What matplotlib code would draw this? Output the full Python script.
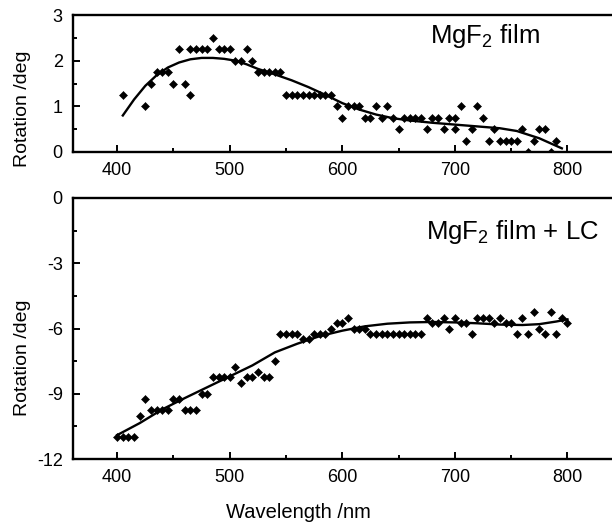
import numpy as np
import matplotlib
matplotlib.use("Agg")
import matplotlib.pyplot as plt
from matplotlib.ticker import MultipleLocator

plt.rcParams['font.family'] = ['Liberation Sans', 'DejaVu Sans']
plt.rcParams['mathtext.fontset'] = 'custom'
plt.rcParams['mathtext.rm'] = 'Liberation Sans'
plt.rcParams['mathtext.it'] = 'Liberation Sans'

# ---- Top panel: MgF2 film ----
top_wl = [405, 425, 430, 435, 440, 445, 450, 455, 460, 465, 465, 470, 475, 480,
          485, 490, 495, 500, 505, 510, 515, 520, 525, 530, 535, 540, 545,
          550, 555, 560, 565, 570, 575, 580, 585, 590, 595, 600, 605, 610,
          615, 620, 625, 630, 635, 640, 645, 650, 655, 660, 665, 670, 675,
          680, 685, 690, 695, 700, 700, 705, 710, 715, 720, 725, 730, 735,
          740, 745, 750, 755, 760, 765, 770, 775, 780, 785, 790]
top_rot = [1.25, 1.0, 1.5, 1.75, 1.75, 1.75, 1.5, 2.25, 1.5, 1.25, 2.25, 2.25, 2.25, 2.25,
           2.5, 2.25, 2.25, 2.25, 2.0, 2.0, 2.25, 2.0, 1.75, 1.75, 1.75, 1.75, 1.75,
           1.25, 1.25, 1.25, 1.25, 1.25, 1.25, 1.25, 1.25, 1.25, 1.0, 0.75, 1.0, 1.0,
           1.0, 0.75, 0.75, 1.0, 0.75, 1.0, 0.75, 0.5, 0.75, 0.75, 0.75, 0.75, 0.5,
           0.75, 0.75, 0.5, 0.75, 0.75, 0.5, 1.0, 0.25, 0.5, 1.0, 0.75, 0.25, 0.5,
           0.25, 0.25, 0.25, 0.25, 0.5, 0.0, 0.25, 0.5, 0.5, 0.0, 0.25]

top_fit_wl = [405, 415, 425, 435, 445, 455, 465, 475, 485, 495, 505, 515, 525,
              540, 555, 570, 585, 600, 615, 630, 645, 660, 680, 700, 720, 740,
              755, 765, 775, 785, 795]
top_fit = [0.80, 1.15, 1.45, 1.68, 1.85, 1.96, 2.03, 2.06, 2.06, 2.04, 2.00, 1.92, 1.82,
           1.70, 1.57, 1.42, 1.25, 1.07, 0.93, 0.82, 0.74, 0.69, 0.64, 0.60, 0.56, 0.52,
           0.46, 0.38, 0.30, 0.19, 0.08]

# ---- Bottom panel: MgF2 film + LC ----
bot_wl = [400, 405, 410, 415, 420, 425, 430, 435, 440, 445, 450, 455, 460, 465,
          470, 475, 480, 485, 490, 495, 500, 505, 510, 515, 520, 525, 530, 535,
          540, 545, 550, 555, 560, 565, 570, 575, 580, 585, 590, 595, 600, 605,
          610, 615, 620, 625, 630, 635, 640, 645, 650, 655, 660, 665, 670, 675,
          680, 685, 690, 695, 700, 705, 710, 715, 720, 725, 730, 735, 740, 745,
          750, 755, 760, 765, 770, 775, 780, 785, 790, 795, 800]
bot_rot = [-11, -11, -11, -11, -10, -9.25, -9.75, -9.75, -9.75, -9.75, -9.25, -9.25, -9.75, -9.75,
           -9.75, -9.0, -9.0, -8.25, -8.25, -8.25, -8.25, -7.75, -8.5, -8.25, -8.25, -8.0, -8.25, -8.25,
           -7.5, -6.25, -6.25, -6.25, -6.25, -6.5, -6.5, -6.25, -6.25, -6.25, -6.0, -5.75, -5.75, -5.5,
           -6.0, -6.0, -6.0, -6.25, -6.25, -6.25, -6.25, -6.25, -6.25, -6.25, -6.25, -6.25, -6.25, -5.5,
           -5.75, -5.75, -5.5, -6.0, -5.5, -5.75, -5.75, -6.25, -5.5, -5.5, -5.5, -5.75, -5.5, -5.75,
           -5.75, -6.25, -5.5, -6.25, -5.25, -6.0, -6.25, -5.25, -6.25, -5.5, -5.75]

bot_fit_wl = [400, 420, 440, 460, 480, 500, 520, 540, 560, 580, 600, 620, 640,
              660, 680, 700, 720, 740, 760, 775, 790, 800]
bot_fit = [-10.9, -10.35, -9.72, -9.2, -8.7, -8.2, -7.7, -7.1, -6.7, -6.35, -6.1, -5.9, -5.78,
           -5.72, -5.7, -5.72, -5.76, -5.82, -5.84, -5.8, -5.68, -5.58]

xticks = [400, 500, 600, 700, 800]

W, H = 612, 527
fig = plt.figure(figsize=(W / 100, H / 100), dpi=100)

left = 72.5 / W
ax1 = fig.add_axes([left, 1 - 152 / H, 1 - left + 0.01, (152 - 15) / H])
ax2 = fig.add_axes([left, 1 - 459 / H, 1 - left + 0.01, (459 - 198) / H])

def style(ax):
    for s in ['left', 'bottom', 'top']:
        ax.spines[s].set_linewidth(1.7)
    ax.spines['right'].set_visible(False)
    ax.tick_params(which='both', direction='in', top=False, right=False,
                   labelsize=13, width=1.4, pad=7)
    ax.tick_params(which='major', length=5)
    ax.tick_params(which='minor', length=3)
    ax.set_xlim(360.3, 845)
    ax.set_xticks(xticks)
    ax.xaxis.set_minor_locator(MultipleLocator(50))

mk = dict(marker='D', linestyle='none', color='black', ms=3.6, mew=0.4)

# top
ax1.plot(top_wl, top_rot, **mk)
ax1.plot(top_fit_wl, top_fit, '-', color='black', lw=1.7)
ax1.set_ylim(0, 3)
ax1.set_yticks([0, 1, 2, 3])
ax1.yaxis.set_minor_locator(MultipleLocator(0.5))
style(ax1)
ax1.text(485 / W, 1 - 36 / H, r'MgF$_{2}$ film', transform=fig.transFigure,
         ha='center', va='center', fontsize=18.5)

# bottom
ax2.plot(bot_wl, bot_rot, **mk)
ax2.plot(bot_fit_wl, bot_fit, '-', color='black', lw=1.7)
ax2.set_ylim(-12, 0)
ax2.set_yticks([-12, -9, -6, -3, 0])
ax2.set_yticklabels(['-12', '-9', '-6', '-3', '0'])
ax2.yaxis.set_minor_locator(MultipleLocator(1.5))
style(ax2)
ax2.text(512 / W, 1 - 232 / H, r'MgF$_{2}$ film + LC', transform=fig.transFigure,
         ha='center', va='center', fontsize=18.5)

fig.text(23 / W, 1 - 109 / H, 'Rotation /deg', rotation=90, ha='center', va='center', fontsize=14)
fig.text(23 / W, 1 - 358 / H, 'Rotation /deg', rotation=90, ha='center', va='center', fontsize=14)
fig.text(298 / W, 1 - 512 / H, 'Wavelength /nm', ha='center', va='center', fontsize=14.5)

fig.savefig('out.png', dpi=100)
